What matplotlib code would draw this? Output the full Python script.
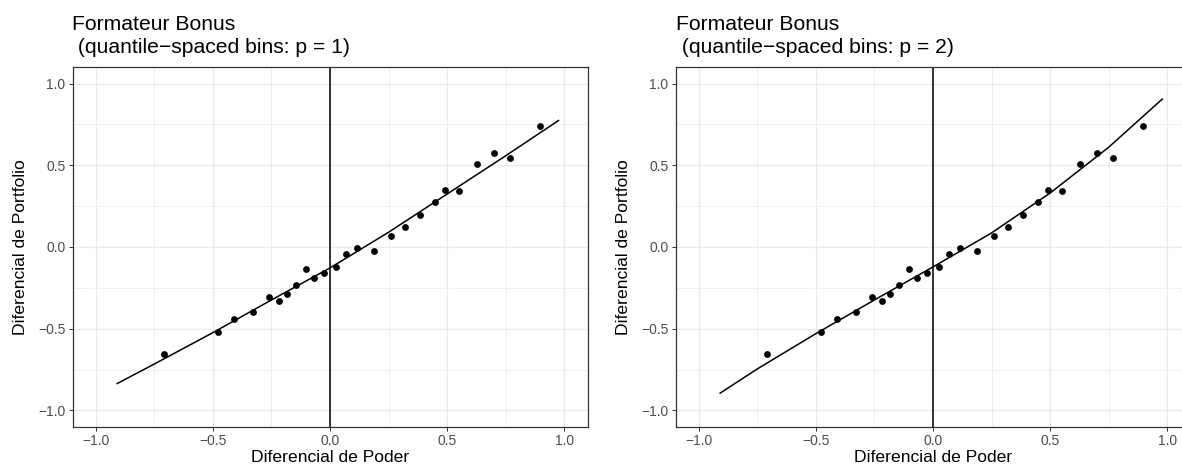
import matplotlib
matplotlib.use("Agg")
import matplotlib.pyplot as plt
from matplotlib.ticker import FixedLocator

plt.rcParams['font.family'] = ['Liberation Sans', 'DejaVu Sans']

# binned means (same in both panels)
x_bins = [-0.711, -0.479, -0.408, -0.327, -0.262, -0.220, -0.184, -0.145, -0.104,
          -0.067, -0.027, 0.024, 0.068, 0.117, 0.188, 0.260, 0.319, 0.386, 0.448,
          0.491, 0.552, 0.629, 0.700, 0.771, 0.895]
y_bins = [-0.656, -0.518, -0.440, -0.396, -0.306, -0.328, -0.285, -0.230, -0.133,
          -0.192, -0.159, -0.120, -0.043, -0.006, -0.024, 0.069, 0.124, 0.198, 0.273,
          0.347, 0.343, 0.510, 0.577, 0.544, 0.742]

# fitted lines
line1_x = [-0.912, -0.75, -0.5, -0.25, 0.0, 0.25, 0.5, 0.75, 0.979]
line1_y = [-0.838, -0.716, -0.524, -0.324, -0.128, 0.090, 0.324, 0.558, 0.777]
line2_x = [-0.912, -0.75, -0.5, -0.25, 0.0, 0.25, 0.5, 0.75, 0.982]
line2_y = [-0.897, -0.746, -0.530, -0.324, -0.122, 0.086, 0.330, 0.610, 0.909]

titles = ["Formateur Bonus", " (quantile\u2212spaced bins: p = 1)",
          " (quantile\u2212spaced bins: p = 2)"]
xlabel = "Diferencial de Poder"
ylabel = "Diferencial de Portfolio"
ticks = [-1.0, -0.5, 0.0, 0.5, 1.0]
tick_labels = ["\u22121.0", "\u22120.5", "0.0", "0.5", "1.0"]
minor_ticks = [-0.75, -0.25, 0.25, 0.75]

W, H = 1182, 468
fig = plt.figure(figsize=(W / 100, H / 100), dpi=100)

panels = [
    (72.5, line1_x, line1_y, titles[1]),
    (675.5, line2_x, line2_y, titles[2]),
]
ax_w, ax_top, ax_bot = 515.0, 67.3, 426.7

for left_px, lx, ly, sub in panels:
    ax = fig.add_axes([left_px / W, 1 - ax_bot / H, ax_w / W, (ax_bot - ax_top) / H])
    ax.set_xlim(-1.1, 1.1)
    ax.set_ylim(-1.1, 1.1)
    ax.xaxis.set_major_locator(FixedLocator(ticks))
    ax.yaxis.set_major_locator(FixedLocator(ticks))
    ax.xaxis.set_minor_locator(FixedLocator(minor_ticks))
    ax.yaxis.set_minor_locator(FixedLocator(minor_ticks))
    ax.grid(which='major', color='#EBEBEB', linewidth=1.0, zorder=0)
    ax.grid(which='minor', color='#EBEBEB', linewidth=0.55, zorder=0)
    ax.set_axisbelow(True)
    ax.tick_params(which='minor', length=0)
    ax.tick_params(which='major', length=3.2, width=0.7, color='#333333',
                   labelsize=10, labelcolor='#4D4D4D', pad=1.8)
    for s in ax.spines.values():
        s.set_color('#333333')
        s.set_linewidth(0.9)
    ax.set_xticklabels(tick_labels)
    ax.set_yticklabels(tick_labels)

    ax.axvline(0, color='black', linewidth=1.1, zorder=2)
    ax.plot(lx, ly, color='black', linewidth=1.1, zorder=3,
            solid_capstyle='butt', solid_joinstyle='round')
    ax.scatter(x_bins, y_bins, s=24, color='black', linewidths=0, zorder=4)

    ax.set_xlabel(xlabel, fontsize=12.6, color='black')
    ax.set_ylabel(ylabel, fontsize=12.6, color='black')
    ax.xaxis.set_label_coords(0.5, -(450.5 - ax_bot) / (ax_bot - ax_top))
    ax.yaxis.set_label_coords(-44.0 / ax_w, 0.5)

    fig.text(left_px / W, 1 - 30.0 / H, titles[0], fontsize=15.2,
             ha='left', va='baseline', color='black')
    fig.text(left_px / W, 1 - 53.3 / H, sub, fontsize=15.2,
             ha='left', va='baseline', color='black')

fig.savefig("out.png", dpi=100)
